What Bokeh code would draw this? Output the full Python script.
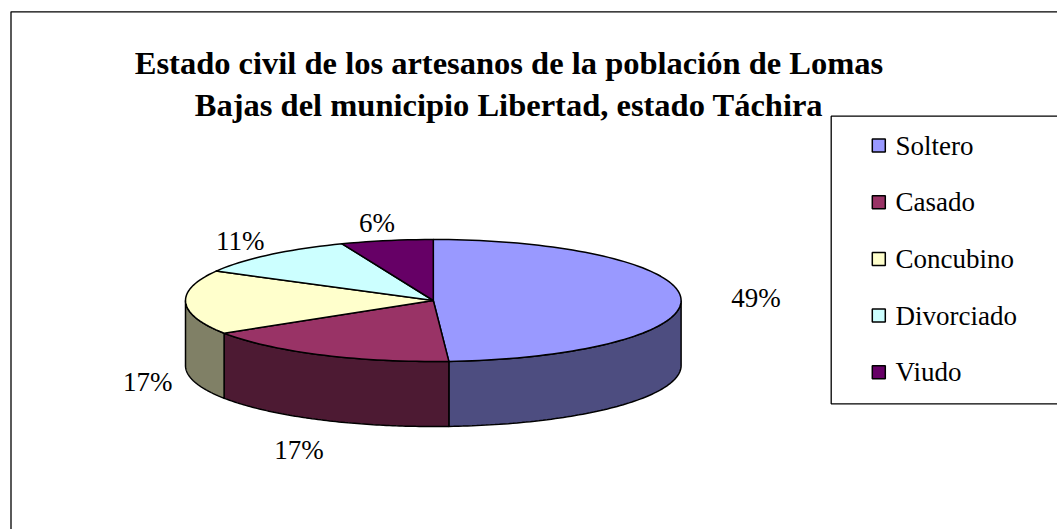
import math
from bokeh.plotting import figure
from bokeh.models import ColumnDataSource, Range1d
from bokeh.core.properties import value
from bokeh.embed import file_html
from bokeh.resources import INLINE

# ---------------- data ----------------
categories = ["Soltero", "Casado", "Concubino", "Divorciado", "Viudo"]
values = [49, 17, 17, 11, 6]
pct_labels = ["49%", "17%", "17%", "11%", "6%"]
title_lines = ["Estado civil de los artesanos de la población de Lomas",
               "Bajas del municipio Libertad, estado Táchira"]
top_colors = ["#9999FF", "#993366", "#FFFFCC", "#CCFFFF", "#660066"]
side_colors = ["#4D4D80", "#4D1A33", "#808066", "#668080", "#330033"]

# ---------------- layout ----------------
W, H = 1057, 529
CX, CY, A, B, DEPTH = 432.8, 300.0, 247.8, 61.0, 65.0
FONT = value("Liberation Serif")

p = figure(width=W, height=H, output_backend="svg", toolbar_location=None,
           x_range=Range1d(0, W), y_range=Range1d(H, 0),
           x_axis_type=None, y_axis_type=None, min_border=0)
p.outline_line_color = None
p.background_fill_color = "white"
p.border_fill_color = "white"

# outer chart border
p.quad(left=[10.5], right=[W + 30], top=[11.3], bottom=[H + 30],
       fill_color=None, line_color="black", line_width=1.3)


def pt(t, dy=0.0):
    return CX + A * math.sin(t), CY - B * math.cos(t) + dy


total = float(sum(values))
bounds = [0.0]
for v in values:
    bounds.append(bounds[-1] + 2 * math.pi * v / total)

# side walls (front half only)
wx, wy, wc = [], [], []
for i in range(len(values)):
    s = max(bounds[i], math.pi / 2)
    e = min(bounds[i + 1], 3 * math.pi / 2)
    if e <= s:
        continue
    n = 80
    ts = [s + (e - s) * k / n for k in range(n + 1)]
    top = [pt(t) for t in ts]
    bot = [pt(t, DEPTH) for t in reversed(ts)]
    poly = top + bot
    wx.append([q[0] for q in poly])
    wy.append([q[1] for q in poly])
    wc.append(side_colors[i])
p.patches(xs="xs", ys="ys", fill_color="c", line_color="black", line_width=1.5,
          source=ColumnDataSource(dict(xs=wx, ys=wy, c=wc)))

# top faces
tx, ty = [], []
for i in range(len(values)):
    s, e = bounds[i], bounds[i + 1]
    n = max(10, int(200 * (e - s) / (2 * math.pi)))
    poly = [(CX, CY)] + [pt(s + (e - s) * k / n) for k in range(n + 1)]
    tx.append([q[0] for q in poly])
    ty.append([q[1] for q in poly])
p.patches(xs="xs", ys="ys", fill_color="c", line_color="black", line_width=1.5,
          line_join="round",
          source=ColumnDataSource(dict(xs=tx, ys=ty, c=top_colors)))

# percentage labels, placed outside each slice's mid-angle
lx, ly = [], []
for i in range(len(values)):
    m = (bounds[i] + bounds[i + 1]) / 2
    sx, cy = math.sin(m), math.cos(m)
    lx.append(CX + (A + 56.5) * sx + 18.5 * sx * sx)
    ly.append(CY - (B + 18) * cy + (DEPTH + 14 if cy < 0 else 0))
p.text(x=lx, y=ly, text=pct_labels, text_font=FONT, text_font_size="27px",
       text_align="center", text_baseline="middle", text_color="black")

# title
p.text(x=[508.5, 508.5], y=[62.3, 104.3], text=title_lines, text_font=FONT,
       text_font_size="32.5px", text_font_style="bold", text_align="center",
       text_baseline="alphabetic", text_color="black")

# legend
LX0, LY0, LY1 = 830.7, 115.7, 403.3
LEG_Y0, LEG_STEP = 145.0, 56.7
p.quad(left=[LX0], right=[W + 30], top=[LY0], bottom=[LY1],
       fill_color="white", line_color="black", line_width=1.3)
ys = [LEG_Y0 + LEG_STEP * i for i in range(len(categories))]
p.rect(x=[878.3] * len(categories), y=ys, width=13, height=13,
       fill_color=top_colors, line_color="black", line_width=1.5)
p.text(x=[895] * len(categories), y=ys, text=categories, text_font=FONT,
       text_font_size="27px", text_align="left", text_baseline="middle",
       text_color="black")

open("out.html", "w").write(file_html(p, INLINE))
